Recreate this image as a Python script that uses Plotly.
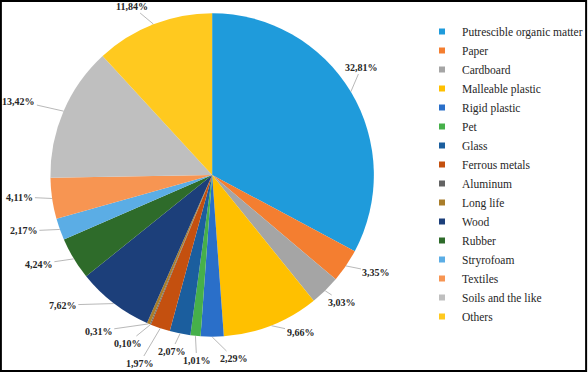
import math
import plotly.graph_objects as go

categories = ["Putrescible organic matter", "Paper", "Cardboard", "Malleable plastic",
              "Rigid plastic", "Pet", "Glass", "Ferrous metals", "Aluminum", "Long life",
              "Wood", "Rubber", "Stryrofoam", "Textiles", "Soils and the like", "Others"]
values = [32.81, 3.35, 3.03, 9.66, 2.29, 1.01, 2.07, 1.97, 0.10, 0.31,
          7.62, 4.24, 2.17, 4.11, 13.42, 11.84]
colors = ["#1F9BDB", "#F47E30", "#A5A5A5", "#FFC000", "#2A6FC9", "#46B04A",
          "#1B5E9E", "#C4500F", "#636363", "#A97D2A", "#1C3F7A", "#2E6B2A",
          "#5BADE5", "#F79552", "#BFBFBF", "#FFC91F"]
labels_txt = [f"{v:.2f}%".replace(".", ",") for v in values]

# layout constants (pixels)
W, H = 588, 372
CX, CY, R = 212.5, 175.0, 162.0
# label text centres (pixels, placement only)
label_pos = [(362, 67), (377, 272), (343, 302), (301, 332), (234, 358), (197, 360),
             (172, 351), (140, 363), (128, 343), (99, 331), (63, 305), (39, 264),
             (24, 231), (20, 197), (19, 101), (132, 6)]

SERIF = "Liberation Serif, Times New Roman, serif"

fig = go.Figure()
fig.add_trace(go.Pie(
    labels=categories, values=values, textinfo="none",
    marker=dict(colors=colors, line=dict(width=0)),
    sort=False, direction="clockwise", rotation=0,
    domain=dict(x=[(CX - R) / W, (CX + R) / W], y=[1 - (CY + R) / H, 1 - (CY - R) / H]),
    showlegend=False, hoverinfo="label+percent",
))
# legend entries
for name, col in zip(categories, colors):
    fig.add_trace(go.Scatter(x=[None], y=[None], mode="markers", name=name,
                             marker=dict(symbol="square", size=6, color=col),
                             hoverinfo="skip"))

annotations = []
total = sum(values)
cum = 0.0
for v, txt, (lx, ly) in zip(values, labels_txt, label_pos):
    theta = 2 * math.pi * (cum + v / 2) / total
    cum += v
    ex = CX + R * math.sin(theta)
    ey = CY - R * math.cos(theta)
    annotations.append(dict(
        x=ex / W, y=1 - ey / H, xref="paper", yref="paper",
        text=txt, showarrow=True, arrowhead=0, arrowwidth=0.8, arrowcolor="#A6A6A6",
        ax=lx - ex, ay=ly - ey, standoff=0, startstandoff=0,
        font=dict(family=SERIF, size=10, color="#262626", weight="bold"),
    ))

fig.update_layout(
    width=W, height=H, margin=dict(l=0, r=0, t=0, b=0),
    paper_bgcolor="white", plot_bgcolor="white",
    xaxis=dict(visible=False), yaxis=dict(visible=False),
    showlegend=True,
    legend=dict(x=423 / W, y=1 - 17 / H, xanchor="left", yanchor="top",
                font=dict(family=SERIF, size=11.5, color="#262626"),
                itemwidth=30, tracegroupgap=0, traceorder="normal",
                bgcolor="rgba(0,0,0,0)"),
    annotations=annotations,
    shapes=[dict(type="rect", xref="paper", yref="paper", x0=0.0015, y0=0.0025, x1=0.9985, y1=0.9975,
                 line=dict(color="black", width=2))],
)
fig.write_html("out.html", config={"displayModeBar": False},
               post_script="document.body.style.margin='0px';")
